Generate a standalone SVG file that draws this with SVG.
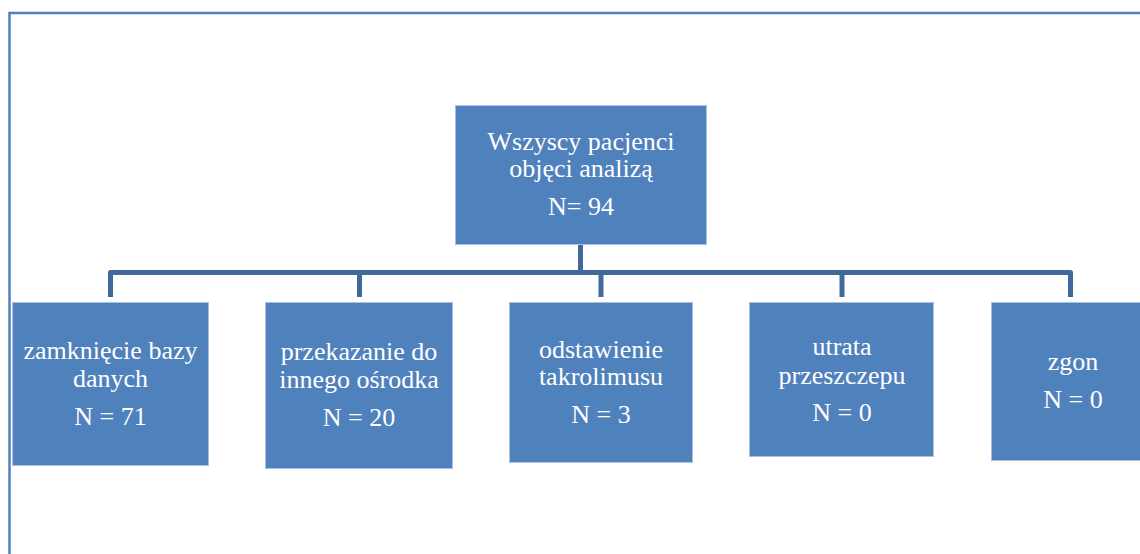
<svg xmlns="http://www.w3.org/2000/svg" width="1140" height="554" viewBox="0 0 1140 554">
<style>
.box{fill:#4f81bd;stroke:#a9c2e0;stroke-width:1}
.t{font-family:"Liberation Serif","Times New Roman",serif;font-size:26px;fill:#ffffff;text-anchor:middle}
.c{fill:none;stroke:#41699b;stroke-width:5;stroke-linejoin:round}
</style>
<rect width="1140" height="554" fill="#ffffff"/>
<path d="M9.5 560 V13 H1150" fill="none" stroke="#4f81bd" stroke-width="2.5"/>
<g id="connectors">
<path class="c" d="M580.5 245 V272.5"/>
<path class="c" d="M110.5 297 V272.5 H1070.5 V297"/>
<path class="c" d="M359.5 272.5 V297"/>
<path class="c" d="M601 272.5 V297"/>
<path class="c" d="M842 272.5 V297"/>
</g>
<g id="root">
<rect class="box" x="455.5" y="105.5" width="251" height="139"/>
<text class="t" x="581" y="150">Wszyscy pacjenci</text>
<text class="t" x="581" y="177">objęci analizą</text>
<text class="t" x="581" y="215">N= 94</text>
</g>
<g id="n1">
<rect class="box" x="12.5" y="302.5" width="196" height="163"/>
<text class="t" x="110.5" y="359">zamknięcie bazy</text>
<text class="t" x="110.5" y="387">danych</text>
<text class="t" x="110.5" y="425">N = 71</text>
</g>
<g id="n2">
<rect class="box" x="265.5" y="302.5" width="187" height="166"/>
<text class="t" x="359" y="360">przekazanie do</text>
<text class="t" x="359" y="388">innego ośrodka</text>
<text class="t" x="359" y="426">N = 20</text>
</g>
<g id="n3">
<rect class="box" x="509.5" y="302.5" width="183" height="160"/>
<text class="t" x="601" y="358">odstawienie</text>
<text class="t" x="601" y="385">takrolimusu</text>
<text class="t" x="601" y="423">N = 3</text>
</g>
<g id="n4">
<rect class="box" x="749.5" y="302.5" width="184" height="154"/>
<text class="t" x="842" y="355">utrata</text>
<text class="t" x="842" y="384">przeszczepu</text>
<text class="t" x="842" y="421">N = 0</text>
</g>
<g id="n5">
<rect class="box" x="991.5" y="302.5" width="164" height="158"/>
<text class="t" x="1073" y="370">zgon</text>
<text class="t" x="1073" y="408">N = 0</text>
</g>
</svg>
